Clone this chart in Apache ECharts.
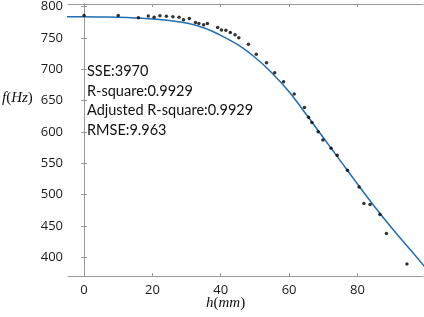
<!DOCTYPE html>
<html>
<head>
<meta charset="utf-8">
<script src="https://cdn.jsdelivr.net/npm/echarts@6/dist/echarts.min.js"></script>
<style>
  html, body { margin: 0; padding: 0; background: #fff; }
  #chart { width: 424px; height: 317px; }
</style>
</head>
<body>
<div id="chart"></div>
<script>
// measured points
const hData = [0, 10, 15.9, 18.8, 20.5, 22.2, 24.1, 26, 27.8, 29.1, 30.8, 32.6, 33.6, 35, 36.1,
  39.1, 40.2, 41.5, 42.8, 44.2, 45.3, 48.1, 50.4, 53.4, 55.8, 58.4, 61.5, 64.5, 65.7, 66.7,
  68.5, 69.9, 72.3, 74.1, 77.1, 80.5, 81.9, 83.7, 86.6, 88.5, 94.5]
const fData = [785.5, 785.5, 782, 785, 783, 785.3, 784.3, 783.8, 783, 778.8, 780.7, 774.6, 773, 771, 773,
  766.5, 762.7, 762, 758.7, 755, 750.2, 739.7, 724, 710.3, 694.3, 679.8, 660.2, 639, 623.2, 614.9,
  600.3, 587, 573.8, 562.8, 538.6, 512, 485.7, 484, 468, 438, 389]

// fitted curve
const fitH = [-5, 0, 5, 10, 15, 20, 25, 30, 35, 40, 45, 50, 55, 60, 65, 70, 75, 80, 85, 90, 95, 100]
const fitF = [783.5, 783.5, 783.2, 782.7, 781.6, 780, 777.5, 773.5, 766, 754, 739, 719, 694, 664, 628, 591, 554, 517, 481, 447, 415, 383]

const xTicks = [0, 20, 40, 60, 80]
const yTicks = [400, 450, 500, 550, 600, 650, 700, 750, 800]

const statLines = ['SSE:3970', 'R-square:0.9929', 'Adjusted R-square:0.9929', 'RMSE:9.963']

const axisGray = '#9a9a9a'
const labelStyle = { color: '#1a1a1a', fontFamily: 'Open Sans', fontSize: 13 }

const chart = echarts.init(document.getElementById('chart'))

const xBase = {
  type: 'value', min: -4.7, max: 99.2,
  axisLine: { show: true, lineStyle: { color: axisGray } },
  axisTick: { show: true, inside: true, length: 3, customValues: xTicks, lineStyle: { color: axisGray } },
  splitLine: { show: false }
}
const yBase = {
  type: 'value', min: 370, max: 804,
  axisLine: { show: true, lineStyle: { color: axisGray } },
  axisTick: { show: true, inside: true, length: 3, customValues: yTicks, lineStyle: { color: axisGray } },
  splitLine: { show: false }
}

chart.setOption({
  animation: false,
  grid: { left: 68, right: 1, top: 3, bottom: 41 },
  xAxis: [
    Object.assign({}, xBase, {
      position: 'bottom',
      axisLabel: Object.assign({ customValues: xTicks, margin: 8 }, labelStyle)
    }),
    Object.assign({}, xBase, { position: 'top', axisLabel: { show: false } })
  ],
  yAxis: [
    Object.assign({}, yBase, {
      position: 'left',
      axisLabel: Object.assign({ customValues: yTicks, margin: 5 }, labelStyle)
    }),
    Object.assign({}, yBase, { position: 'right', axisLabel: { show: false } })
  ],
  series: [
    {
      type: 'line',
      data: fitH.map((h, i) => [h, fitF[i]]),
      smooth: 0.4,
      showSymbol: false,
      clip: true,
      lineStyle: { color: '#1f6db4', width: 1.5 },
      z: 2
    },
    {
      type: 'scatter',
      data: hData.map((h, i) => [h, fData[i]]),
      symbolSize: 3.5,
      itemStyle: { color: '#000' },
      z: 3
    }
  ],
  graphic: [
    {
      type: 'text', left: 87, top: 62,
      style: {
        text: statLines.join('\n'),
        font: '14.5px Lato', lineHeight: 19.5, fill: '#111'
      }
    },
    {
      type: 'text', left: 2, top: 91,
      style: {
        text: '{i|f}{n|(}{i|Hz}{n|)}',
        rich: {
          i: { fontFamily: 'Liberation Serif', fontStyle: 'italic', fontSize: 15, fill: '#111' },
          n: { fontFamily: 'Liberation Serif', fontSize: 15, fill: '#111' }
        }
      }
    },
    {
      type: 'text', left: 206, top: 296,
      style: {
        text: '{i|h}{n|(}{i|mm}{n|)}',
        rich: {
          i: { fontFamily: 'Liberation Serif', fontStyle: 'italic', fontSize: 15, fill: '#111' },
          n: { fontFamily: 'Liberation Serif', fontSize: 15, fill: '#111' }
        }
      }
    }
  ]
})
</script>
</body>
</html>
